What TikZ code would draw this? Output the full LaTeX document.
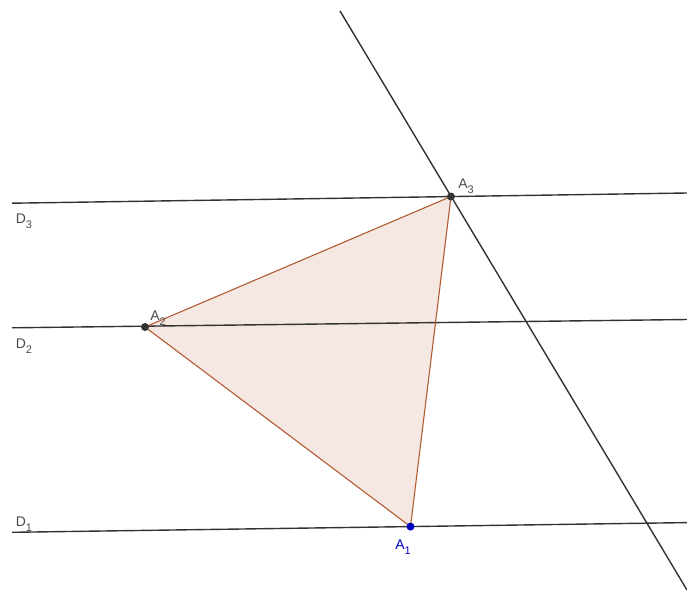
\documentclass[tikz,border=0pt]{standalone}
\usepackage{fontspec}
\setmainfont{Liberation Sans}
\definecolor{trifill}{RGB}{245,231,226}
\definecolor{triedge}{RGB}{178,92,52}
\definecolor{linec}{RGB}{50,50,50}
\newcommand{\lbl}[2]{#1\raisebox{-0.35em}{\fontsize{11}{12}\selectfont #2}}
\begin{document}
\begin{tikzpicture}[x=1pt,y=-1pt,
  gline/.style={draw=linec,line width=1.4pt},
  pt/.style={circle,fill=black!80,inner sep=0pt,minimum size=8pt},
  lab/.style={font=\fontsize{14}{16}\selectfont,text=black!70,inner sep=0pt}]
\useasboundingbox (0,0) rectangle (687,605);
\coordinate (d3l) at (12,203.2);
\coordinate (d3r) at (687,193);
\coordinate (d2l) at (12,327.8);
\coordinate (d2r) at (687,319.5);
\coordinate (d1l) at (12,532.3);
\coordinate (d1r) at (687,522.6);
\coordinate (ot) at (340,11);
\coordinate (ob) at (687,590);
\coordinate (a1) at (410.5,526.6);
\coordinate (a2) at (145,327);
\coordinate (a3) at (451,196.5);
\fill[trifill] (a1) -- (a2) -- (a3) -- cycle;
\draw[gline] (d3l) -- (d3r);
\draw[gline] (d2l) -- (d2r);
\draw[gline] (d1l) -- (d1r);
\draw[gline] (ot) -- (ob);
\draw[draw=triedge,line width=1.1pt] (a1) -- (a2) -- (a3) -- cycle;
\node[pt] (A2) at (a2) {};
\node[pt] (A3) at (a3) {};
\node[pt,fill=blue!75!black] (A1) at (a1) {};
\node[lab] (LD3) at (24,221) {\lbl{D}{3}};
\node[lab] (LD2) at (24,346) {\lbl{D}{2}};
\node[lab] (LD1) at (24,524) {\lbl{D}{1}};
\node[lab,text=blue!75!black] (LA1) at (403,547) {\lbl{A}{1}};
\node[lab] (LA2) at (158,318) {\lbl{A}{2}};
\node[lab] (LA3) at (466,186) {\lbl{A}{3}};
\end{tikzpicture}
\end{document}
